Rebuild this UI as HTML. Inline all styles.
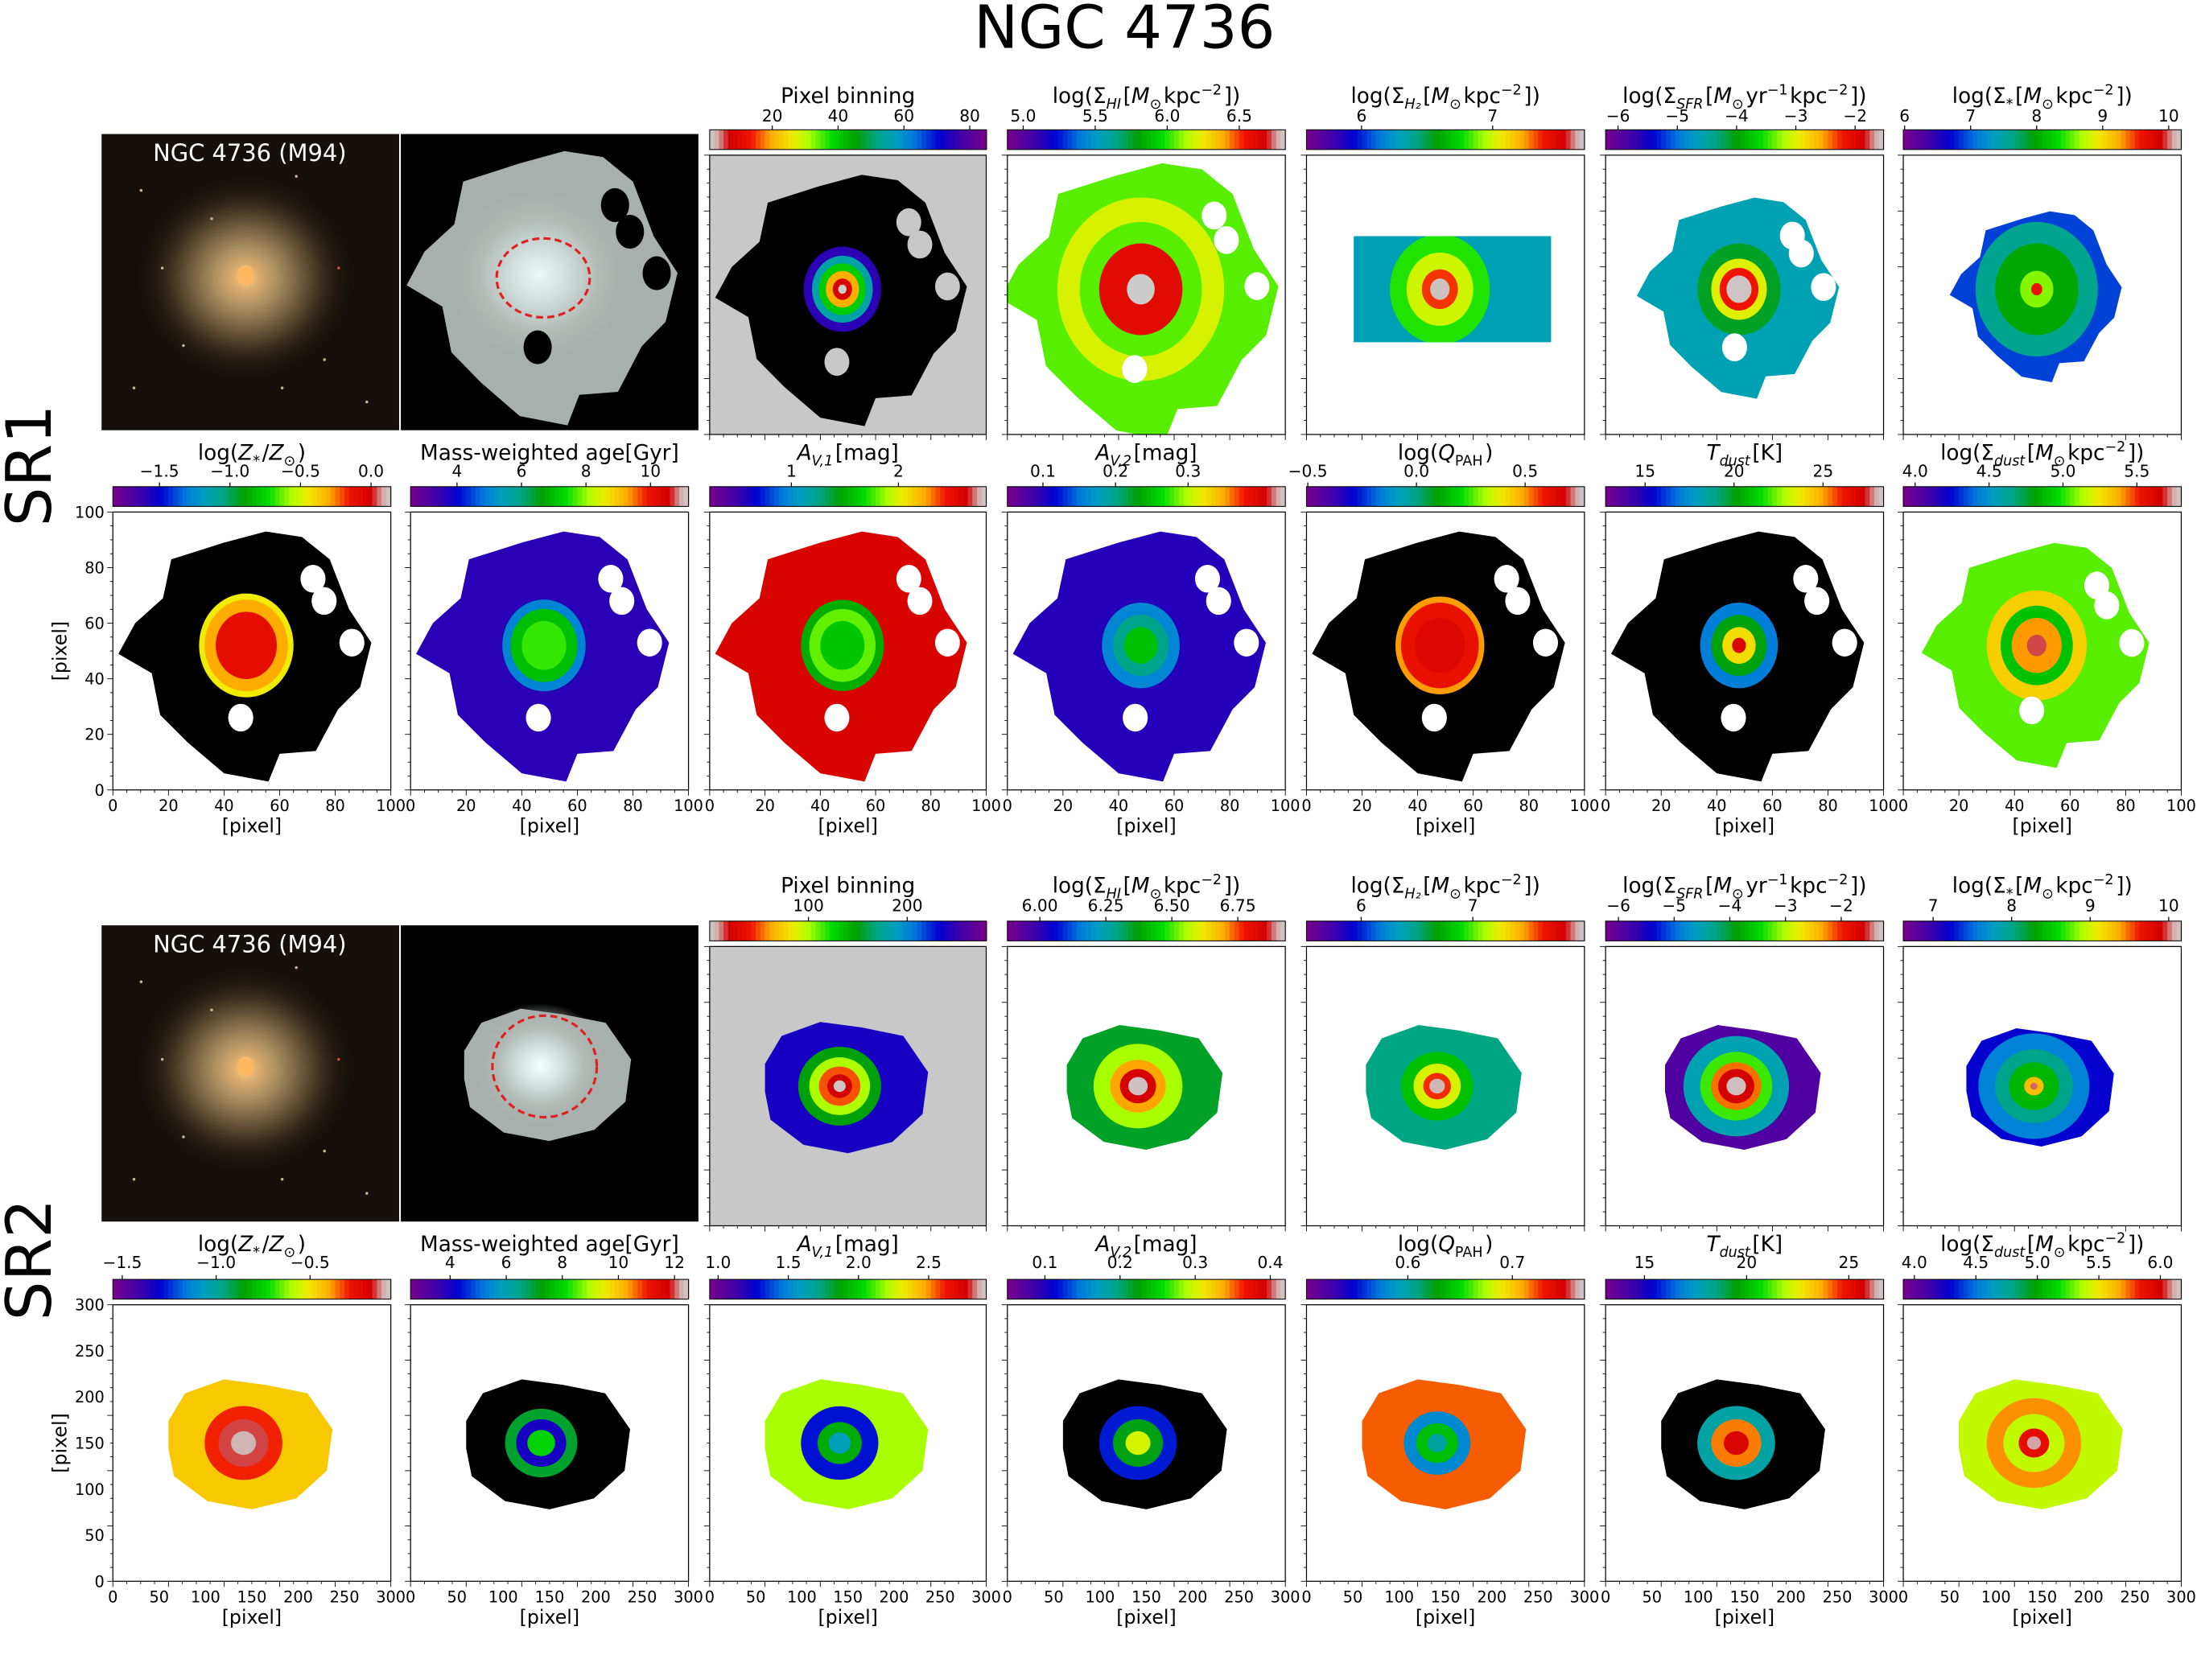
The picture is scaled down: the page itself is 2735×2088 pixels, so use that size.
<!DOCTYPE html>
<html><head><meta charset="utf-8"><title>NGC 4736 maps</title>
<style>
html,body{margin:0;padding:0;background:#fff;}
svg{display:block;}
text{font-family:"DejaVu Sans","Liberation Sans",sans-serif;fill:#000;}
</style></head>
<body>
<svg id="fig" xmlns="http://www.w3.org/2000/svg" width="2735" height="2088" viewBox="0 0 1560 1191" preserveAspectRatio="none">
<defs>
<radialGradient id="glow" cx="50%" cy="50%" r="50%">
<stop offset="0" stop-color="#ffd890"/><stop offset="0.1" stop-color="#e0b070"/><stop offset="0.3" stop-color="#a88c60"/><stop offset="0.6" stop-color="#54442c"/><stop offset="1" stop-color="#16110b" stop-opacity="0"/>
</radialGradient>
<radialGradient id="glow2" cx="50%" cy="50%" r="50%">
<stop offset="0" stop-color="#f4ffff"/><stop offset="0.25" stop-color="#d8e8e6"/><stop offset="0.6" stop-color="#b4bcb8"/><stop offset="1" stop-color="#a6aeab" stop-opacity="0"/>
</radialGradient>
</defs>
<text x="797" y="34" font-size="42" text-anchor="middle">NGC 4736</text>
<text x="36" y="330" font-size="44" text-anchor="middle" transform="rotate(-90 36 330)">SR1</text>
<text x="36" y="893" font-size="44" text-anchor="middle" transform="rotate(-90 36 893)">SR2</text>
<g id="content"></g>
</svg>
<script>
// ---------- data ----------
const panelNames = ["pixel-binning","hi-density","h2-density","sfr-density","stellar-density","metallicity","age","av1","av2","qpah","tdust","dust-density"];
const sr1Ranges = [[1,85],[4.89,6.82],[5.58,7.70],[-6.21,-1.52],[5.98,10.19],[-1.83,0.14],[2.56,11.18],[0.237,2.82],[0.051,0.434],[-0.506,0.773],[12.78,28.4],[3.92,5.80]];
const sr1Ticks = [[20,40,60,80],[5.0,5.5,6.0,6.5],[6,7],[-6,-5,-4,-3,-2],[6,7,8,9,10],[-1.5,-1.0,-0.5,0.0],[4,6,8,10],[1,2],[0.1,0.2,0.3],[-0.5,0.0,0.5],[15,20,25],[4.0,4.5,5.0,5.5]];
const sr1TickLabels = [["20","40","60","80"],["5.0","5.5","6.0","6.5"],["6","7"],["−6","−5","−4","−3","−2"],["6","7","8","9","10"],["−1.5","−1.0","−0.5","0.0"],["4","6","8","10"],["1","2"],["0.1","0.2","0.3"],["−0.5","0.0","0.5"],["15","20","25"],["4.0","4.5","5.0","5.5"]];
const sr2Ranges = [[0,280],[5.877,6.93],[5.51,8.0],[-6.23,-1.24],[6.62,10.16],[-1.55,-0.07],[2.59,12.5],[0.94,2.91],[0.05,0.42],[0.503,0.769],[13.1,26.7],[3.91,6.17]];
const sr2Ticks = [[100,200],[6.0,6.25,6.5,6.75],[6,7],[-6,-5,-4,-3,-2],[7,8,9,10],[-1.5,-1.0,-0.5],[4,6,8,10,12],[1.0,1.5,2.0,2.5],[0.1,0.2,0.3,0.4],[0.6,0.7],[15,20,25],[4.0,4.5,5.0,5.5,6.0]];
const sr2TickLabels = [["100","200"],["6.00","6.25","6.50","6.75"],["6","7"],["−6","−5","−4","−3","−2"],["7","8","9","10"],["−1.5","−1.0","−0.5"],["4","6","8","10","12"],["1.0","1.5","2.0","2.5"],["0.1","0.2","0.3","0.4"],["0.6","0.7"],["15","20","25"],["4.0","4.5","5.0","5.5","6.0"]];
// background value of each map ("k" = black)
const sr1Bg = ["k",6.05,6.3,-4.6,6.9,"k",3.6,2.6,0.1,"k","k",5.05];
const sr2Bg = [240,6.35,6.5,-5.9,7.2,-0.45,"k",2.2,"k",0.72,"k",5.4];
// concentric ring values (outer->inner) and radii (fraction of panel)
const sr1RingVals = [[75,55,40,20,8,1],[6.2,6.05,6.6,6.82],[6.8,7.0,7.35,7.68],[-4.1,-3.0,-2.2,-1.55],[7.6,8.0,8.6,9.6],[-0.45,-0.3,-0.1],[5,7,7.6],[1.5,1.8,1.6],[0.16,0.2,0.25],[0.5,0.6,0.65],[17,20,24,27],[5.3,4.9,5.4,5.7]];
const sr1RingRad = [[0.14,0.11,0.085,0.06,0.035,0.015],[0.3,0.22,0.15,0.05],[0.18,0.12,0.065,0.035],[0.15,0.1,0.07,0.045],[0.22,0.15,0.06,0.02],[0.17,0.15,0.11],[0.15,0.12,0.08],[0.15,0.12,0.08],[0.14,0.1,0.06],[0.16,0.14,0.09],[0.14,0.1,0.06,0.025],[0.18,0.13,0.09,0.035]];
const sr2RingVals = [[150,100,50,20,2],[6.55,6.7,6.85,6.92],[6.8,7.2,7.6,7.95],[-4.5,-3.3,-2.2,-1.6,-1.3],[7.6,8.0,8.4,9.3,10.0],[-0.3,-0.15,-0.1],[7,4,8],[1.3,1.9,1.6],[0.12,0.22,0.3],[0.58,0.64,0.6],[18,24,25.5],[5.7,5.4,5.9,6.1]];
const sr2RingRad = [[0.15,0.11,0.075,0.045,0.022],[0.16,0.1,0.065,0.035],[0.13,0.085,0.05,0.028],[0.19,0.13,0.09,0.065,0.035],[0.2,0.14,0.09,0.035,0.013],[0.14,0.09,0.045],[0.13,0.09,0.05],[0.14,0.08,0.04],[0.14,0.09,0.045],[0.12,0.075,0.035],[0.14,0.09,0.045],[0.17,0.11,0.055,0.025]];
const sr1XTicks = [0,20,40,60,80,100];
const sr2XTicks = [0,50,100,150,200,250,300];

// ---------- layout ----------
const colX = [[80,277],[291,488],[503,699],[714,911],[926,1123],[1138,1335],[1349,1546]];
const rows = {
  r1:{cb:92,top:110,bot:308,title:73,tick:86},
  r2:{cb:345,top:363,bot:560,title:326,tick:338},
  r3:{cb:653,top:671,bot:869,title:633,tick:646},
  r4:{cb:907,top:925,bot:1121,title:887,tick:899}
};
const NS="http://www.w3.org/2000/svg";
const root=document.getElementById('content');
function mk(tag,attrs,parent,txt){const e=document.createElementNS(NS,tag);for(const k in attrs)e.setAttribute(k,attrs[k]);if(txt!==undefined)e.textContent=txt;(parent||root).appendChild(e);return e;}

const stops=[[0,[120,0,140]],[0.1,[60,0,170]],[0.17,[0,0,210]],[0.26,[0,120,221]],[0.33,[0,160,190]],[0.4,[0,165,130]],[0.47,[0,160,0]],[0.56,[0,220,0]],[0.64,[170,255,0]],[0.7,[240,235,0]],[0.78,[255,170,0]],[0.85,[240,20,0]],[0.93,[210,0,0]],[0.97,[210,170,170]],[1,[204,204,204]]];
function cmap(t){t=Math.max(0,Math.min(1,t));for(let i=1;i<stops.length;i++){if(t<=stops[i][0]){const a=stops[i-1],b=stops[i],f=(t-a[0])/(b[0]-a[0]);const c=a[1].map((v,j)=>Math.round(v+(b[1][j]-v)*f));return `rgb(${c[0]},${c[1]},${c[2]})`;}}return 'rgb(204,204,204)';}
function norm(v,r){return (v-r[0])/(r[1]-r[0]);}
function colorFor(v,r,rev){if(v==="k")return "#000";let t=norm(v,r);if(rev)t=1-t;return cmap(t);}

function titleText(i,x,y,g){
  const t=mk('text',{x:x,y:y,'font-size':15,'text-anchor':'middle'},g);
  const add=(s,o)=>{const sp=mk('tspan',o||{},t,s);return sp;};
  const sub=(s,it)=>{add(s,{'font-size':10,dy:4,'font-style':it?'italic':'normal'});add('\u200a',{dy:-4});};
  const sup=(s)=>{add(s,{'font-size':10,dy:-6});add('\u200a',{dy:6});};
  switch(i){
    case 0: add("Pixel binning");break;
    case 1: add("log(Σ");sub("HI",true);add("[");add("M",{'font-style':'italic'});sub("⊙");add("kpc");sup("−2");add("])");break;
    case 2: add("log(Σ");sub("H₂",true);add("[");add("M",{'font-style':'italic'});sub("⊙");add("kpc");sup("−2");add("])");break;
    case 3: add("log(Σ");sub("SFR",true);add("[");add("M",{'font-style':'italic'});sub("⊙");add("yr");sup("−1");add("kpc");sup("−2");add("])");break;
    case 4: add("log(Σ");sub("*");add("[");add("M",{'font-style':'italic'});sub("⊙");add("kpc");sup("−2");add("])");break;
    case 5: add("log(");add("Z",{'font-style':'italic'});sub("*");add("/");add("Z",{'font-style':'italic'});sub("⊙");add(")");break;
    case 6: add("Mass-weighted age[Gyr]");break;
    case 7: add("A",{'font-style':'italic'});sub("V,1",true);add("[mag]");break;
    case 8: add("A",{'font-style':'italic'});sub("V,2",true);add("[mag]");break;
    case 9: add("log(");add("Q",{'font-style':'italic'});sub("PAH");add(")");break;
    case 10: add("T",{'font-style':'italic'});sub("dust",true);add("[K]");break;
    case 11: add("log(Σ");sub("dust",true);add("[");add("M",{'font-style':'italic'});sub("⊙");add("kpc");sup("−2");add("])");break;
  }
}

function colorbar(i,col,row,range,ticks,labels,rev,g){
  const [x0,x1]=colX[col];const w=x1-x0;
  const cb=mk('g',{},g);
  
  
  const n=60;
  for(let k=0;k<n;k++){
    const t=k/n;
    mk('rect',{x:x0+w*t,y:row.cb,width:w/n+0.6,height:14,fill:rev?cmap(1-t-0.5/n):cmap(t+0.5/n)},cb);
  }
  mk('rect',{x:x0,y:row.cb,width:w,height:14,fill:'none',stroke:'#000','stroke-width':0.6},cb);
  ticks.forEach((tv,j)=>{
    const x=x0+w*norm(tv,range);
    mk('line',{x1:x,x2:x,y1:row.cb,y2:row.cb-3,stroke:'#000','stroke-width':0.7},cb);
    const lb=mk('text',{x:x,y:row.tick,'font-size':11.5,'text-anchor':'middle'},cb,labels[j]);
    
    
  });
  const tg=mk('g',{},g);
  
  
  titleText(i,(x0+x1)/2,row.title,tg);
}

const blobSR1=[[0.08,0.40],[0.18,0.31],[0.21,0.17],[0.40,0.11],[0.55,0.07],[0.68,0.09],[0.78,0.17],[0.85,0.35],[0.93,0.47],[0.89,0.63],[0.81,0.71],[0.73,0.86],[0.60,0.87],[0.56,0.97],[0.40,0.94],[0.27,0.83],[0.17,0.73],[0.14,0.58],[0.02,0.51]];
const holesSR1=[[0.72,0.24],[0.76,0.32],[0.86,0.47],[0.46,0.74]];
const blobSR2=[[0.20,0.42],[0.26,0.32],[0.40,0.27],[0.55,0.29],[0.70,0.32],[0.79,0.45],[0.77,0.60],[0.66,0.70],[0.50,0.74],[0.34,0.71],[0.22,0.62],[0.20,0.52]];

function blobPath(pts,x0,y0,w,h,s,cx,cy){
  return 'M'+pts.map(p=>[(x0+w*(cx+(p[0]-cx)*s)).toFixed(1),(y0+h*(cy+(p[1]-cy)*s)).toFixed(1)].join(',')).join('L')+'Z';
}

function mapPanel(i,col,row,sr,range,bg,rv,rr,rev,g,xTicks,yTicks){
  const [x0,x1]=colX[col];const w=x1-x0,h=row.bot-row.top;
  const pg=mk('g',{},g);
  
  
  const panelBg=(i===0)?'#c8c8c8':'#fff';
  mk('rect',{x:x0,y:row.top,width:w,height:h,fill:panelBg},pg);
  const clipId='clip'+sr+'_'+i;
  const cp=mk('clipPath',{id:clipId},pg);
  let cx,cy,s=1,asp=1;
  let path;
  if(sr===1){
    cx=0.48;cy=0.48;
    if(i===1)s=1.1; if(i===3)s=0.8; if(i===4)s=0.68; if(i===11)s=0.9;
    if(i===2){path=`M${x0+w*0.17},${row.top+h*0.29}H${x0+w*0.88}V${row.top+h*0.67}H${x0+w*0.17}Z`;}
    else path=blobPath(blobSR1,x0,row.top,w,h,s,cx,cy);
    asp=1.1;
  } else {
    cx=0.47;cy=0.5;
    if(i===4)s=0.9; if(i===1||i===2||i===3)s=0.95;
    path=blobPath(blobSR2,x0,row.top,w,h,s,cx,cy);
    asp=0.95;
  }
  mk('path',{d:path},cp);
  const inner=mk('g',{'clip-path':`url(#${clipId})`},pg);
  mk('rect',{x:x0,y:row.top,width:w,height:h,fill:colorFor(bg,range,rev)},inner);
  rv.forEach((v,j)=>{
    const rad=rr[j];
    const el=mk('ellipse',{cx:x0+w*cx,cy:row.top+h*cy,rx:w*rad,ry:w*rad*asp,fill:colorFor(v,range,rev)},inner);
    
    
  });
  if(sr===1 && i!==2 && i!==4){
    holesSR1.forEach(p=>mk('ellipse',{cx:x0+w*(cx+(p[0]-cx)*s),cy:row.top+h*(cy+(p[1]-cy)*s),rx:w*0.045,ry:h*0.05,fill:panelBg},pg));
  }
  mk('rect',{x:x0,y:row.top,width:w,height:h,fill:'none',stroke:'#000','stroke-width':0.7},pg);
  for(let k=0;k<=20;k++){
    const xx=x0+w*k/20, yy=row.top+h*k/20;
    mk('line',{x1:xx,x2:xx,y1:row.bot,y2:row.bot+(k%4===0?4:2),stroke:'#000','stroke-width':0.5},pg);
    mk('line',{x1:x0,x2:x0-(k%4===0?4:2),y1:yy,y2:yy,stroke:'#000','stroke-width':0.5},pg);
  }
  if(xTicks){
    const xmax=xTicks[xTicks.length-1];
    xTicks.forEach(t=>{
      const lb=mk('text',{x:x0+w*t/xmax,y:row.bot+15,'font-size':11,'text-anchor':'middle'},pg,String(t));
      
      
    });
    const xl=mk('text',{x:(x0+x1)/2,y:row.bot+30,'font-size':13.5,'text-anchor':'middle'},pg,'[pixel]');
    
    
  }
  if(yTicks){
    const ymax=yTicks[yTicks.length-1];
    yTicks.forEach(t=>{
      const lb=mk('text',{x:x0-6,y:row.bot-h*t/ymax+4,'font-size':11,'text-anchor':'end'},pg,String(t));
      
      
    });
    const yc=(row.top+row.bot)/2;
    const yl=mk('text',{x:47,y:yc,'font-size':13.5,'text-anchor':'middle',transform:`rotate(-90 47 ${yc})`},pg,'[pixel]');
    
    
  }
}

function images(top,sr){
  const g=mk('g',{});
  
  
  const h=210;
  mk('rect',{x:72,y:top,width:211,height:h,fill:'#15100b'},g);
  mk('ellipse',{cx:174,cy:top+102,rx:78,ry:74,fill:'url(#glow)'},g);
  mk('ellipse',{cx:174,cy:top+100,rx:6,ry:7,fill:'#ffb860'},g);
  const stars=[[100,40],[130,150],[240,95],[210,30],[95,180],[260,190],[150,60],[230,160],[115,95],[200,180]];
  stars.forEach(p=>mk('circle',{cx:p[0],cy:top+p[1]*h/210,r:1,fill:p[0]===240?'#d05030':'#c8b890'},g));
  const nt=mk('text',{x:177,y:top+19,'font-size':16.5,'text-anchor':'middle',fill:'#fff',style:'fill:#fff'},g,'NGC 4736 (M94)');
  
  
  mk('rect',{x:284,y:top,width:211,height:h,fill:'#000'},g);
  if(sr===1){
    const p=blobPath(blobSR1,284,top-3,211,216,1,0.48,0.48);
    mk('path',{d:p,fill:'#a8b0ad'},g);
    mk('ellipse',{cx:382,cy:top+100,rx:70,ry:66,fill:'url(#glow2)',opacity:0.9},g);
    [[0.72,0.24],[0.77,0.33],[0.86,0.47],[0.46,0.72]].forEach(q=>mk('ellipse',{cx:284+211*q[0],cy:top+h*q[1],rx:10,ry:12,fill:'#000'},g));
    mk('ellipse',{cx:385,cy:top+102,rx:33,ry:28,fill:'none',stroke:'#e02020','stroke-width':1.8,'stroke-dasharray':'5,3'},g);
  } else {
    const p=blobPath(blobSR2,284,top,211,h,0.95,0.47,0.5);
    mk('path',{d:p,fill:'#a8b0ad'},g);
    mk('ellipse',{cx:383,cy:top+100,rx:50,ry:45,fill:'url(#glow2)'},g);
    mk('ellipse',{cx:386,cy:top+100,rx:37,ry:36,fill:'none',stroke:'#e02020','stroke-width':1.8,'stroke-dasharray':'5,3'},g);
  }
  mk('line',{x1:283.5,x2:283.5,y1:top,y2:top+h,stroke:'#fff','stroke-width':1.2},g);
}

images(95,1);
images(656,2);
for(let i=0;i<12;i++){
  const top=i<5;
  {
    const row=top?rows.r1:rows.r2; const col=top?i+2:i-5;
    const g=mk('g',{});
    
    
    colorbar(i,col,row,sr1Ranges[i],sr1Ticks[i],sr1TickLabels[i],i===0,g);
    mapPanel(i,col,row,1,sr1Ranges[i],sr1Bg[i],sr1RingVals[i],sr1RingRad[i],i===0,g,top?null:sr1XTicks,(!top&&col===0)?sr1XTicks:null);
  }
  {
    const row=top?rows.r3:rows.r4; const col=top?i+2:i-5;
    const g=mk('g',{});
    
    
    colorbar(i,col,row,sr2Ranges[i],sr2Ticks[i],sr2TickLabels[i],i===0,g);
    mapPanel(i,col,row,2,sr2Ranges[i],sr2Bg[i],sr2RingVals[i],sr2RingRad[i],i===0,g,top?null:sr2XTicks,(!top&&col===0)?sr2XTicks:null);
  }
}
</script>
</body></html>
